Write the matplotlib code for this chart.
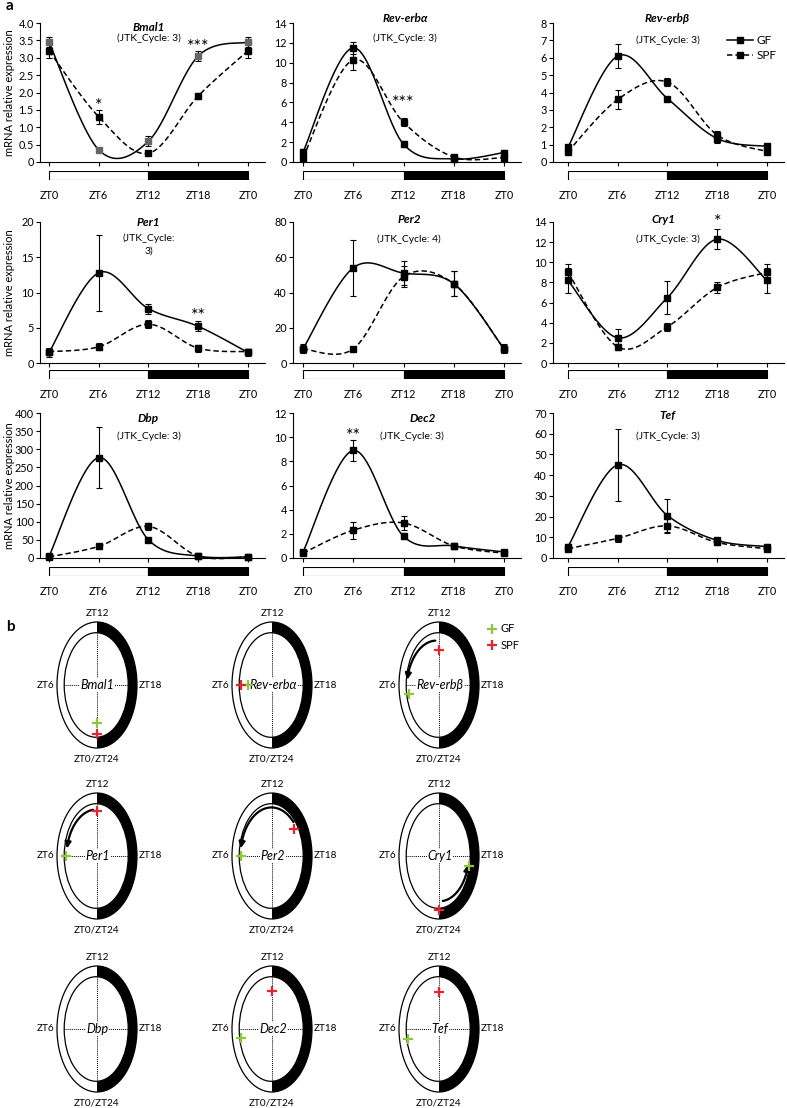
import numpy as np
import matplotlib
matplotlib.use('Agg')
import matplotlib.pyplot as plt
from matplotlib.patches import Wedge, Ellipse, Circle
from matplotlib.lines import Line2D

plt.rcParams['font.family'] = ['Lato', 'DejaVu Sans']

W, H = 787, 1108

genes = ['Bmal1', 'Rev-erbα', 'Rev-erbβ', 'Per1', 'Per2', 'Cry1', 'Dbp', 'Dec2', 'Tef']
zt = [0, 6, 12, 18, 24]
zt_labels = ['ZT0', 'ZT6', 'ZT12', 'ZT18', 'ZT0']

gf_mean = [[3.45, 0.35, 0.6, 3.05, 3.45],
           [1.0, 11.5, 1.8, 0.3, 0.95],
           [0.85, 6.1, 3.65, 1.35, 0.9],
           [1.5, 12.8, 7.7, 5.2, 1.5],
           [8, 54, 51, 45, 8],
           [8.2, 2.5, 6.5, 12.3, 8.2],
           [5, 277, 50, 5, 3],
           [0.5, 8.9, 1.8, 1.0, 0.5],
           [5.5, 45, 20.5, 8.5, 5.5]]
gf_sem = [[0.15, 0.05, 0.15, 0.15, 0.15],
          [0.3, 0.6, 0.3, 0.2, 0.3],
          [0.1, 0.7, 0.1, 0.25, 0.1],
          [0.6, 5.4, 0.7, 0.7, 0.5],
          [2.5, 16, 7, 7, 2.5],
          [1.2, 0.9, 1.6, 1.0, 1.2],
          [3, 85, 5, 2, 2],
          [0.1, 0.85, 0.25, 0.2, 0.1],
          [1.5, 17.5, 8, 1, 1.5]]
spf_mean = [[3.2, 1.3, 0.25, 1.9, 3.2],
            [0.45, 10.3, 4.0, 0.5, 0.45],
            [0.6, 3.6, 4.6, 1.55, 0.6],
            [1.6, 2.3, 5.5, 2.1, 1.6],
            [8, 8, 49, 45, 8],
            [9.0, 1.6, 3.6, 7.5, 9.0],
            [3, 32, 87, 5, 3],
            [0.4, 2.3, 2.9, 1.0, 0.4],
            [4.5, 9.5, 15.5, 7.5, 4.5]]
spf_sem = [[0.2, 0.2, 0.05, 0.08, 0.2],
           [0.3, 1.0, 0.4, 0.2, 0.3],
           [0.15, 0.55, 0.25, 0.25, 0.1],
           [0.4, 0.5, 0.6, 0.5, 0.4],
           [2, 1, 6, 7, 2],
           [0.8, 0.3, 0.4, 0.5, 0.8],
           [2, 8, 10, 2, 2],
           [0.1, 0.7, 0.6, 0.15, 0.1],
           [1, 1.8, 3.5, 1, 1]]
y_max = [4.0, 14, 8, 20, 80, 14, 400, 12, 70]
y_step = [0.5, 2, 1, 5, 20, 2, 50, 2, 10]
jtk = ['(JTK_Cycle: 3)', '(JTK_Cycle: 3)', '(JTK_Cycle: 3)', '(JTK_Cycle:\n3)',
       '(JTK_Cycle: 4)', '(JTK_Cycle: 3)', '(JTK_Cycle: 3)', '(JTK_Cycle: 3)',
       '(JTK_Cycle: 3)']
stars = [[(6, 1.6, '*'), (18, 3.3, '***')], [(12, 5.9, '***')], [],
         [(18, 6.6, '**')], [], [(18, 14.0, '*')],
         [], [(6, 10.1, '**')], []]

# panel b: phase (ZT hours) and radius of GF / SPF peaks
gf_phase = [0, 6, 5.3, 6, 6, 18.8, None, 5.3, 5.2]
gf_rad = [0.60, 0.60, 0.76, 0.78, 0.78, 0.76, None, 0.79, 0.80]
spf_phase = [0, 6, 12, 12, 15.5, 0, None, 12, 12]
spf_rad = [0.78, 0.78, 0.56, 0.71, 0.70, 0.86, None, 0.60, 0.59]
# phase shift arrows: (start ZT, start r, end ZT, end r)
shift_arrows = {2: (11.5, 0.71, 6.4, 0.80),
                3: (11.5, 0.74, 6.6, 0.76),
                4: (15.0, 0.76, 6.6, 0.79),
                5: (23.5, 0.72, 18.7, 0.74)}


def px_axes(fig, left, top, width, height):
    return fig.add_axes([left / W, 1 - (top + height) / H, width / W, height / H])


def excel_smooth(x, y, n=30):
    p = np.column_stack([x, y]).astype(float)
    out = [p[0]]
    t = np.linspace(0, 1, n)[1:, None]
    for i in range(len(p) - 1):
        p0 = p[max(i - 1, 0)]
        p1 = p[i]
        p2 = p[i + 1]
        p3 = p[min(i + 2, len(p) - 1)]
        c1 = p1 + (p2 - p0) / 6
        c2 = p2 - (p3 - p1) / 6
        seg = (1 - t) ** 3 * p1 + 3 * (1 - t) ** 2 * t * c1 + 3 * (1 - t) * t ** 2 * c2 + t ** 3 * p2
        out.extend(seg)
    out = np.array(out)
    return out[:, 0], out[:, 1]


def tick_fmt(v, step):
    if v == 0:
        return '0'
    if step < 1:
        return f'{v:.1f}'
    return f'{int(round(v))}'


def clock_xy(phase, r):
    th = 2 * np.pi * np.asarray(phase) / 24
    return -r * np.sin(th), -r * np.cos(th)


fig = plt.figure(figsize=(W / 100, H / 100), dpi=100)

col_left = [40, 293, 553]
col_zt0 = [49, 303, 568]
col_pxh = [8.29, 8.375, 8.29]
row_top = [23, 222, 413]
row_bot = [162, 363, 558]
bar_top = [171, 370, 567]

title_y = [0.97, 1.03, 1.03, 1.0, 1.02, 1.02, 0.965, 0.965, 0.98]
jtk_y = [0.925, 0.925, 0.91, 0.92, 0.91, 0.91, 0.87, 0.87, 0.875]
title_x = [12, 12.2, 12, 12, 12.7, 11.5, 12, 14.3, 12]
jtk_x = [12, 12.2, 12, 12, 12.7, 12, 12, 13, 12]

for k, g in enumerate(genes):
    r, c = divmod(k, 3)
    left = col_left[c]
    right = col_zt0[c] + 26 * col_pxh[c]
    x0 = -(col_zt0[c] - left) / col_pxh[c]
    ax = px_axes(fig, left, row_top[r], right - left, row_bot[r] - row_top[r])
    ax.set_xlim(x0, 26)
    ax.set_ylim(0, y_max[k])
    for s in ['top', 'right']:
        ax.spines[s].set_visible(False)
    for s in ['left', 'bottom']:
        ax.spines[s].set_linewidth(0.8)
    ticks = np.arange(0, y_max[k] + y_step[k] / 2, y_step[k])
    ax.set_yticks(ticks)
    ax.set_yticklabels([tick_fmt(v, y_step[k]) for v in ticks])
    ax.set_xticks(zt)
    ax.set_xticklabels([])
    ax.tick_params(axis='both', direction='out', length=3, width=0.8, labelsize=7.8, pad=1.5)

    sx, sy = excel_smooth(zt, gf_mean[k])
    ax.plot(sx, sy, '-', color='k', lw=1.1, clip_on=False)
    sx, sy = excel_smooth(zt, spf_mean[k])
    ax.plot(sx, sy, '--', color='k', lw=1.1, dashes=(3.5, 2), clip_on=False)
    ax.errorbar(zt, gf_mean[k], yerr=gf_sem[k], fmt='none', ecolor='k',
                elinewidth=0.8, capsize=2, capthick=0.8, clip_on=False)
    ax.errorbar(zt, spf_mean[k], yerr=spf_sem[k], fmt='none', ecolor='k',
                elinewidth=0.8, capsize=2, capthick=0.8, clip_on=False)
    gf_col = '#666666' if k == 0 else 'k'
    ax.plot(zt, gf_mean[k], 's', ms=4, color=gf_col, clip_on=False, zorder=5)
    ax.plot(zt, spf_mean[k], 's', ms=4, color='k', clip_on=False, zorder=5)

    ax.text(title_x[k], title_y[k], g, transform=ax.get_xaxis_transform(),
            ha='center', va='center', fontsize=8.5, fontweight='bold', style='italic')
    ax.text(jtk_x[k], jtk_y[k], jtk[k], transform=ax.get_xaxis_transform(),
            ha='center', va='top', fontsize=7.5, linespacing=1.5)
    for sxz, syv, txt in stars[k]:
        ax.text(sxz, syv, txt, ha='center', va='center', fontsize=13)

    if c == 0:
        ax.set_ylabel('mRNA relative expression', fontsize=8)
        ax.yaxis.set_label_coords(-(left - 15) / (right - left), 0.5)

    if k == 2:
        handles = [Line2D([], [], color='k', ls='-', marker='s', ms=4, lw=1.1),
                   Line2D([], [], color='k', ls='--', marker='s', ms=4, lw=1.1, dashes=(3.5, 2))]
        ax.legend(handles, ['GF', 'SPF'], loc='upper right', bbox_to_anchor=(0.99, 0.95),
                  frameon=False, fontsize=8.5, handlelength=2.2, handletextpad=0.3,
                  labelspacing=0.35, borderaxespad=0)

    bax = px_axes(fig, left, bar_top[r], right - left, 9)
    bax.set_xlim(x0, 26)
    bax.set_ylim(0, 1)
    bax.barh([0.5], [12], left=[0], height=1, color='white', edgecolor='k', lw=0.8)
    bax.barh([0.5], [12], left=[12], height=1, color='k', edgecolor='k', lw=0.8)
    for s in bax.spines.values():
        s.set_visible(False)
    bax.set_yticks([])
    bax.set_xticks(zt)
    bax.set_xticklabels(zt_labels)
    bax.tick_params(axis='x', length=0, labelsize=7.8, pad=7)

fig.text(6 / W, 1 - 6 / H, 'a', fontsize=11, fontweight='bold', ha='left', va='center')
fig.text(6 / W, 1 - 627 / H, 'b', fontsize=11, fontweight='bold', ha='left', va='center')

# panel b
circ_cx = [97, 272, 439]
circ_cy = [685, 856, 1029]
green = '#8dc63f'
red = '#e2262b'
inner_x0, inner_a, inner_b = -0.02, 0.80, 0.83
for k, g in enumerate(genes):
    r, c = divmod(k, 3)
    cx, cy = circ_cx[c], circ_cy[r]
    ax = px_axes(fig, cx - 60, cy - 88, 120, 176)
    ax.set_xlim(-1.5, 1.5)
    ax.set_ylim(-88 / 63, 88 / 63)
    ax.axis('off')
    ax.add_patch(Circle((0, 0), 1.0, facecolor='white', edgecolor='none'))
    ax.add_patch(Wedge((0, 0), 1.0, -90, 90, facecolor='k', edgecolor='none'))
    ax.add_patch(Circle((0, 0), 1.0, facecolor='none', edgecolor='k', lw=0.9))
    ax.add_patch(Ellipse((inner_x0, 0), 2 * inner_a, 2 * inner_b,
                         facecolor='white', edgecolor='k', lw=0.9))
    ax.plot([inner_x0 - inner_a, inner_x0 + inner_a], [0, 0], color='k', lw=0.7, ls=(0, (1, 1)))
    ax.plot([0, 0], [-inner_b, inner_b], color='k', lw=0.7, ls=(0, (1, 1)))
    ax.text(0.02, 0, g, ha='center', va='center', fontsize=9, style='italic',
            bbox=dict(boxstyle='square,pad=0.05', facecolor='white', edgecolor='none'))
    ax.text(0, 1.13, 'ZT12', ha='center', va='center', fontsize=7.2)
    ax.text(0, -1.17, 'ZT0/ZT24', ha='center', va='center', fontsize=7.2)
    ax.text(-1.07, 0, 'ZT6', ha='right', va='center', fontsize=7.2)
    ax.text(1.04, 0, 'ZT18', ha='left', va='center', fontsize=7.2)

    if k in shift_arrows:
        t0, r0, t1, r1 = shift_arrows[k]
        tt = np.linspace(t0, t1, 60)
        rr = np.linspace(r0, r1, 60)
        ax_, ay_ = clock_xy(tt, rr)
        ax.plot(ax_[:-4], ay_[:-4], color='k', lw=1.6, solid_capstyle='round', zorder=4)
        ax.annotate('', xy=(ax_[-1], ay_[-1]), xytext=(ax_[-6], ay_[-6]),
                    arrowprops=dict(arrowstyle='-|>', color='k', lw=1.6,
                                    mutation_scale=9, shrinkA=0, shrinkB=0), zorder=4)
    if gf_phase[k] is not None:
        gx, gy = clock_xy(gf_phase[k], gf_rad[k])
        ax.plot(gx, gy, '+', color=green, ms=7, mew=1.6, zorder=6)
        px, py = clock_xy(spf_phase[k], spf_rad[k])
        ax.plot(px, py, '+', color=red, ms=7, mew=1.6, zorder=6)

leg_handles = [Line2D([], [], color=green, ls='none', marker='+', ms=7, mew=1.6),
               Line2D([], [], color=red, ls='none', marker='+', ms=7, mew=1.6)]
fig.legend(leg_handles, ['GF', 'SPF'], loc='upper left',
           bbox_to_anchor=(482 / W, 1 - 619 / H), frameon=False, fontsize=8,
           handlelength=1.0, handletextpad=0.3, labelspacing=0.5, borderaxespad=0)

fig.savefig('out.png', dpi=100)
